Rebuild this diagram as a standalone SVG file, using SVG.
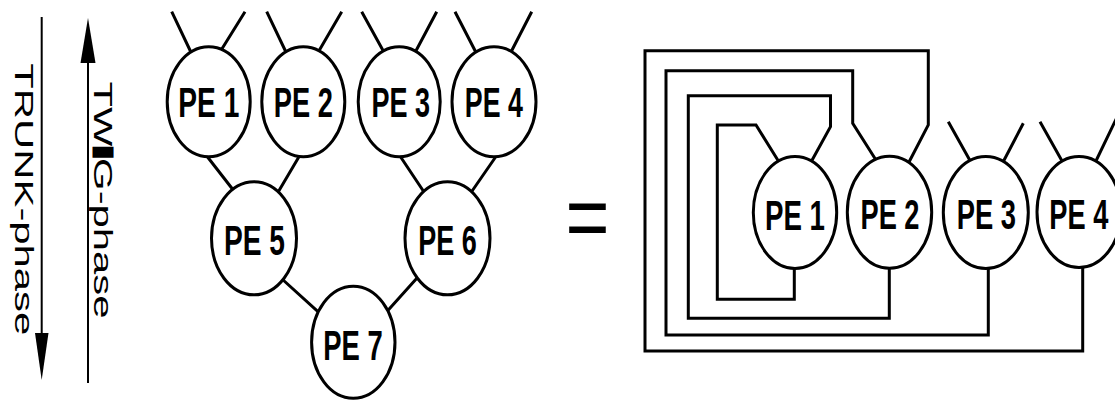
<svg xmlns="http://www.w3.org/2000/svg" width="1115" height="401" viewBox="0 0 1115 401">
<style>
.ln{fill:none;stroke:#000;stroke-width:3;stroke-linejoin:miter;stroke-linecap:butt}
.ar{fill:none;stroke:#000;stroke-width:2}
.node ellipse{fill:#fff;stroke:#000;stroke-width:3}
.lab{font-family:"Liberation Sans",Arial,sans-serif;font-weight:bold;font-size:43px;text-anchor:middle;fill:#000}
.ph{font-family:"Liberation Sans",Arial,sans-serif;font-size:25px;fill:#000}
</style>
<rect width="1115" height="401" fill="#fff"/>
<g id="phase-arrows">
<line class="ar" x1="41.7" y1="17" x2="41.7" y2="340"/>
<polygon points="35,333 48.5,333 41.7,380" fill="#000"/>
<line class="ar" x1="88" y1="383" x2="88" y2="58"/>
<polygon points="80.5,63 95.5,63 88,18" fill="#000"/>
<text class="ph" transform="translate(15,63.3) rotate(90)" textLength="272" lengthAdjust="spacingAndGlyphs">TRUNK-phase</text>
<text class="ph" transform="translate(93.5,81.5) rotate(90)" textLength="237" lengthAdjust="spacingAndGlyphs">TW<tspan font-weight="bold" stroke="#000" stroke-width="3">I</tspan>G-phase</text>
</g>
<g id="connectors">
<path class="ln" d="M171.7,11.7L192.5,55.5M245,11.7L220.6,51M266.7,11.7L287.6,55.5M341.7,11.7L318.6,51.5M361.7,11.7L385.8,55.5M436.7,11.7L415.6,51.5M455,11.7L477.3,55M531.7,11.7L510.5,53"/>
<path class="ln" d="M206,155L234,191M300,155L277,194M400,156L424,192M497,155L470,194M282,279L321,314.3M419.5,275.2L385.6,313"/>
<path class="ln" d="M779,162L756,125H717.3V299.3H794.3V260"/>
<path class="ln" d="M810.5,163L830.5,126.7V95.7H688.3V318.3H889.3V260"/>
<path class="ln" d="M878.5,164L852.7,123.3V70.7H666V335H988.3V260"/>
<path class="ln" d="M908,164L928.3,125V50.7H645V351H1082.7V260"/>
<path class="ln" d="M948.3,121.7L972.5,165M1023.3,123.3L1001,166M1040,121.7L1064,164.5M1120,111L1094.5,164"/>
</g>
<g id="equals"><text x="587.5" y="248" font-family="Liberation Sans,Arial,sans-serif" font-size="90" text-anchor="middle" textLength="44" lengthAdjust="spacingAndGlyphs">=</text></g>
<g id="tree-pe1" class="node"><ellipse cx="208.7" cy="101.7" rx="41.5" ry="55"/><text class="lab" x="208.8" y="116.7" textLength="61" lengthAdjust="spacingAndGlyphs">PE 1</text></g>
<g id="tree-pe2" class="node"><ellipse cx="303.3" cy="101.7" rx="41.5" ry="55"/><text class="lab" x="303.3" y="117.3" textLength="59" lengthAdjust="spacingAndGlyphs">PE 2</text></g>
<g id="tree-pe3" class="node"><ellipse cx="399.2" cy="101.7" rx="41" ry="55"/><text class="lab" x="400.8" y="117" textLength="58.5" lengthAdjust="spacingAndGlyphs">PE 3</text></g>
<g id="tree-pe4" class="node"><ellipse cx="494" cy="101.7" rx="42" ry="55"/><text class="lab" x="493.8" y="117" textLength="58" lengthAdjust="spacingAndGlyphs">PE 4</text></g>
<g id="tree-pe5" class="node"><ellipse cx="254" cy="238.3" rx="42.5" ry="56.5"/><text class="lab" x="254.5" y="255" textLength="61" lengthAdjust="spacingAndGlyphs">PE 5</text></g>
<g id="tree-pe6" class="node"><ellipse cx="447.5" cy="238.3" rx="42.5" ry="56.5"/><text class="lab" x="447.5" y="255" textLength="58.5" lengthAdjust="spacingAndGlyphs">PE 6</text></g>
<g id="tree-pe7" class="node"><ellipse cx="353.3" cy="342.3" rx="41.7" ry="56"/><text class="lab" x="353" y="360" textLength="59.5" lengthAdjust="spacingAndGlyphs">PE 7</text></g>
<g id="ring-pe1" class="node"><ellipse cx="795" cy="212.5" rx="41.7" ry="56"/><text class="lab" x="795" y="230" textLength="60" lengthAdjust="spacingAndGlyphs">PE 1</text></g>
<g id="ring-pe2" class="node"><ellipse cx="889.5" cy="212.3" rx="42.2" ry="56"/><text class="lab" x="890" y="229" textLength="59" lengthAdjust="spacingAndGlyphs">PE 2</text></g>
<g id="ring-pe3" class="node"><ellipse cx="985.8" cy="212.5" rx="42.5" ry="56"/><text class="lab" x="986.3" y="229.3" textLength="59.3" lengthAdjust="spacingAndGlyphs">PE 3</text></g>
<g id="ring-pe4" class="node"><ellipse cx="1079" cy="212" rx="42" ry="55.5"/><text class="lab" x="1078.8" y="229.3" textLength="59" lengthAdjust="spacingAndGlyphs">PE 4</text></g>
</svg>
